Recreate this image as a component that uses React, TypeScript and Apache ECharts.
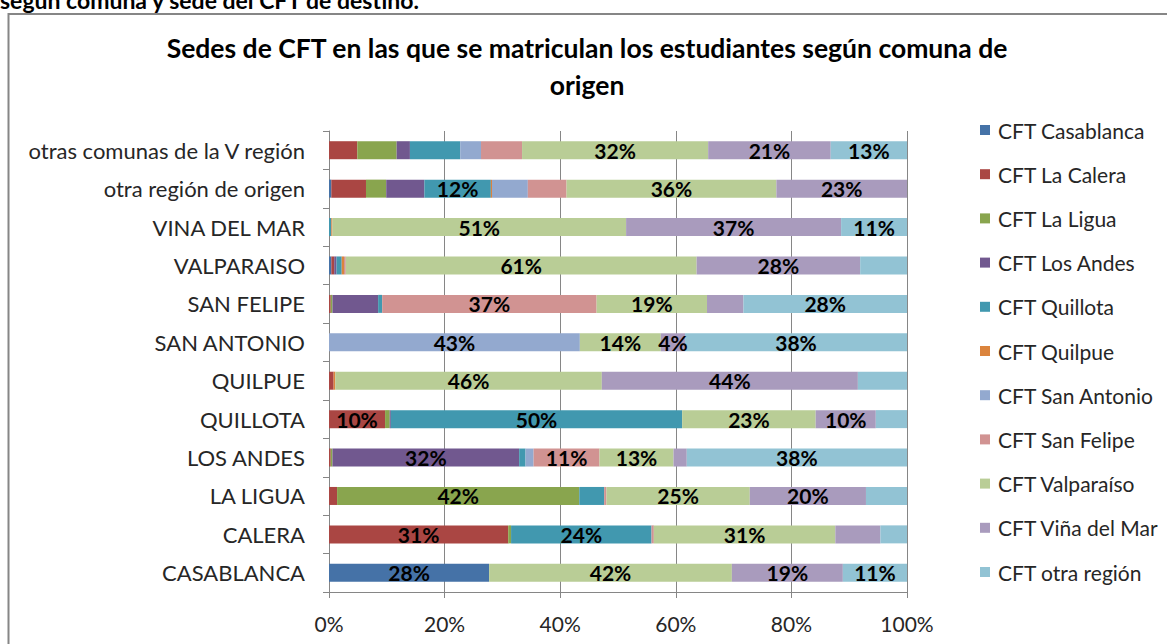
import React, { useEffect, useRef } from "react";
import * as echarts from "echarts";

const categories = [
  "otras comunas de la V región",
  "otra región de origen",
  "VINA DEL MAR",
  "VALPARAISO",
  "SAN FELIPE",
  "SAN ANTONIO",
  "QUILPUE",
  "QUILLOTA",
  "LOS ANDES",
  "LA LIGUA",
  "CALERA",
  "CASABLANCA",
];

const seriesNames = [
  "CFT Casablanca",
  "CFT La Calera",
  "CFT La Ligua",
  "CFT Los Andes",
  "CFT Quillota",
  "CFT Quilpue",
  "CFT San Antonio",
  "CFT San Felipe",
  "CFT Valparaíso",
  "CFT Viña del Mar",
  "CFT otra región",
];

const cftCasablanca = [0, 0.4, 0, 0.4, 0, 0, 0, 0, 0, 0, 0, 27.7];
const cftLaCalera = [4.9, 6.0, 0, 0.5, 0.3, 0, 0.8, 9.7, 0.3, 1.4, 31.0, 0];
const cftLaLigua = [6.8, 3.5, 0, 0, 0.3, 0, 0, 0.8, 0.3, 41.9, 0.5, 0];
const cftLosAndes = [2.3, 6.6, 0, 0.4, 7.9, 0, 0, 0.2, 32.3, 0, 0, 0];
const cftQuillota = [8.7, 11.5, 0.4, 0.9, 0.7, 0, 0, 50.4, 1.1, 4.3, 24.3, 0];
const cftQuilpue = [0, 0.2, 0.2, 0.4, 0, 0, 0.3, 0, 0, 0, 0, 0];
const cftSanAntonio = [3.6, 6.2, 0, 0, 0, 43.4, 0, 0, 1.4, 0, 0, 0];
const cftSanFelipe = [7.1, 6.7, 0, 0.3, 37.1, 0, 0, 0, 11.4, 0.4, 0.4, 0];
const cftValparaiso = [32.2, 36.3, 50.8, 60.7, 19.1, 14.0, 46.1, 23.1, 12.8, 24.8, 31.4, 42.0];
const cftVinaDelMar = [21.2, 22.6, 37.2, 28.3, 6.3, 4.2, 44.3, 10.4, 2.3, 20.1, 7.8, 19.2];
const cftOtraRegion = [13.2, 0, 11.4, 8.1, 28.3, 38.4, 8.5, 5.4, 38.1, 7.1, 4.6, 11.1];

const seriesValues = [
  cftCasablanca,
  cftLaCalera,
  cftLaLigua,
  cftLosAndes,
  cftQuillota,
  cftQuilpue,
  cftSanAntonio,
  cftSanFelipe,
  cftValparaiso,
  cftVinaDelMar,
  cftOtraRegion,
];

const colors = [
  "#4572A7",
  "#AA4643",
  "#89A54E",
  "#71588F",
  "#4198AF",
  "#DB843D",
  "#93A9CF",
  "#D19392",
  "#B9CD96",
  "#A99BBD",
  "#92C3D4",
];

const xTicks = [0, 20, 40, 60, 80, 100];
const labelMin = 9.5;
const extraLabels = [["CFT Viña del Mar", "SAN ANTONIO"]];

const FONT = "Lato, 'Open Sans', sans-serif";

export default function App() {
  const ref = useRef<HTMLDivElement>(null);
  useEffect(() => {
    document.body.style.margin = "0";
    const chart = echarts.init(ref.current!, null, { renderer: "svg" });
    const series = seriesNames.map((name, si) => ({
      name,
      type: "bar",
      stack: "total",
      barWidth: 18,
      itemStyle: { color: colors[si] },
      data: seriesValues[si].map((v, ci) => {
        const show =
          v >= labelMin ||
          extraLabels.some((e) => e[0] === name && e[1] === categories[ci]);
        return {
          value: v,
          label: {
            show,
            position: "inside",
            formatter: (p: any) => Math.round(p.value) + "%",
            color: "#000",
            fontWeight: "bold",
            fontSize: 21,
            fontFamily: FONT,
          },
        };
      }),
    }));
    chart.setOption({
      animation: false,
      textStyle: { fontFamily: FONT },
      grid: { left: 329, right: 260, top: 131, bottom: 52, containLabel: false },
      graphic: [
        {
          type: "rect",
          shape: { x: 8.5, y: 14, width: 1300, height: 800 },
          style: { fill: "none", stroke: "#868686", lineWidth: 2 },
          silent: true,
        },
        {
          type: "text",
          x: 0,
          y: -12,
          style: {
            text: "según comuna y sede del CFT de destino.",
            font: "bold 23px " + FONT,
            fill: "#000",
          },
        },
        {
          type: "text",
          x: 587,
          y: 48,
          style: {
            text: "Sedes de CFT en las que se matriculan los estudiantes según comuna de",
            font: "bold 26.5px " + FONT,
            fill: "#000",
            textAlign: "center",
            textVerticalAlign: "middle",
          },
        },
        {
          type: "text",
          x: 587,
          y: 85,
          style: {
            text: "origen",
            font: "bold 26.5px " + FONT,
            fill: "#000",
            textAlign: "center",
            textVerticalAlign: "middle",
          },
        },
      ],
      legend: {
        orient: "vertical",
        left: 975,
        top: 113,
        itemWidth: 10,
        itemHeight: 10,
        itemGap: 20.2,
        icon: "rect",
        data: seriesNames,
        textStyle: {
          fontSize: 21,
          color: "#262626",
          fontFamily: FONT,
          lineHeight: 24,
          padding: [0, 0, 0, 3],
        },
      },
      xAxis: {
        type: "value",
        min: 0,
        max: 100,
        interval: 20,
        axisLine: { show: true, lineStyle: { color: "#868686" } },
        axisTick: { show: true, length: 6, lineStyle: { color: "#868686" } },
        splitLine: { show: true, lineStyle: { color: "#868686", width: 1 } },
        axisLabel: {
          formatter: (v: number) => (xTicks.includes(v) ? v + "%" : ""),
          fontSize: 21,
          color: "#262626",
          margin: 21,
        },
      },
      yAxis: {
        type: "category",
        inverse: true,
        data: categories,
        axisLine: { show: true, lineStyle: { color: "#868686" } },
        axisTick: { show: true, length: 6, lineStyle: { color: "#868686" } },
        axisLabel: { fontSize: 22, color: "#262626", margin: 24 },
      },
      series,
    });
    return () => chart.dispose();
  }, []);
  return <div ref={ref} style={{ width: 1167, height: 644 }} />;
}
